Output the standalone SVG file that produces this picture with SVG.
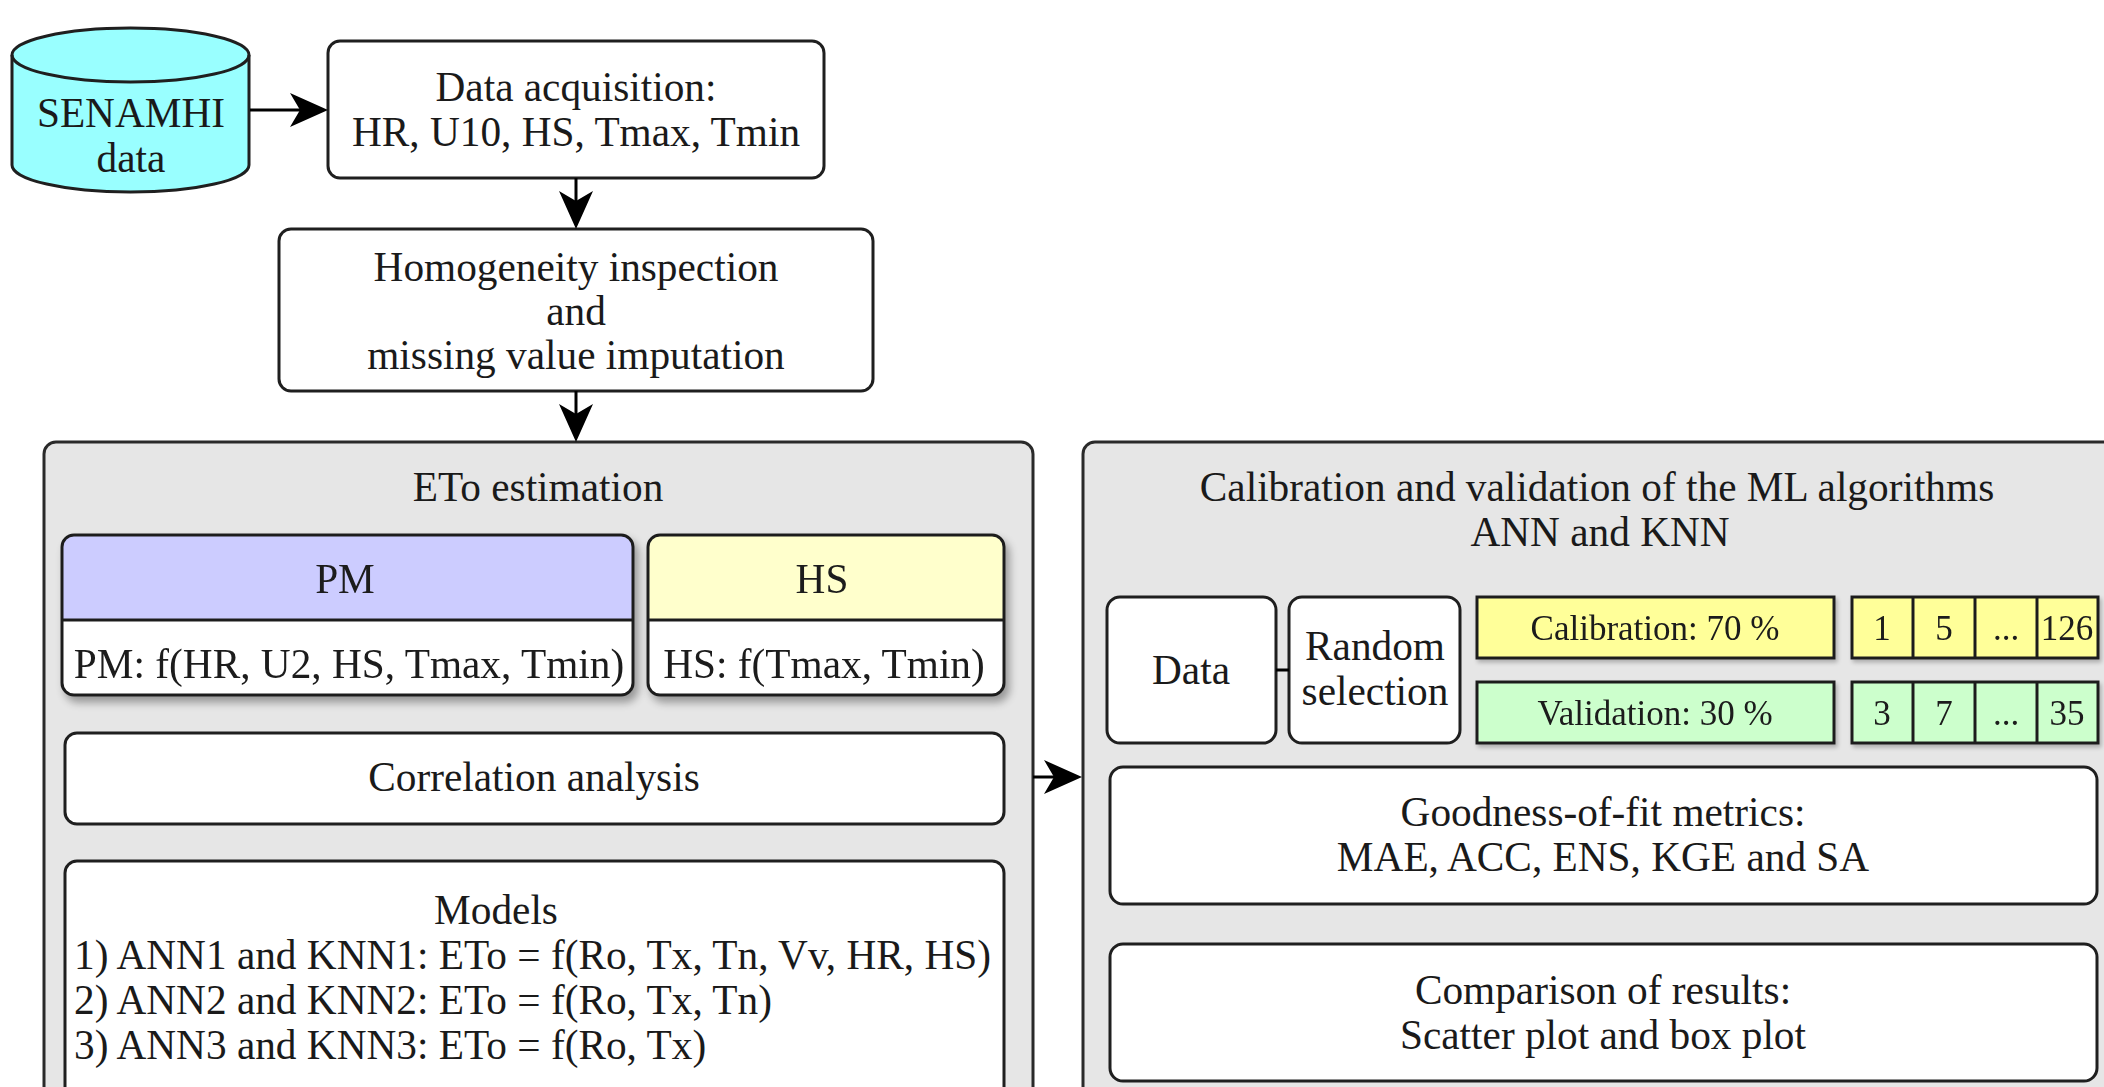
<svg xmlns="http://www.w3.org/2000/svg" width="2104" height="1087" viewBox="0 0 2104 1087">
  <style>
    text { font-family: "Liberation Serif", "Times New Roman", serif; fill: #1a1a1a; }
    .t40 { font-size: 41.3px; }
    .t33 { font-size: 35px; }
    .c { text-anchor: middle; }
    .box { fill: #ffffff; stroke: #1f1f1f; stroke-width: 3; }
    .cont { fill: #e6e6e6; stroke: #2a2a2a; stroke-width: 3; }
    .edge { fill: none; stroke: #000000; stroke-width: 3; }
  </style>
  <defs>
    <marker id="arr" markerUnits="userSpaceOnUse" markerWidth="40" markerHeight="36" refX="10" refY="17" orient="auto">
      <path d="M0,0 L38,17 L0,34 L10,17 Z" fill="#000000"/>
    </marker>
    <filter id="sh" x="-10%" y="-10%" width="130%" height="140%">
      <feGaussianBlur in="SourceAlpha" stdDeviation="4"/>
      <feOffset dx="4" dy="6" result="b"/>
      <feComponentTransfer><feFuncA type="linear" slope="0.35"/></feComponentTransfer>
      <feMerge><feMergeNode/><feMergeNode in="SourceGraphic"/></feMerge>
    </filter>
    <filter id="sh2" x="-5%" y="-10%" width="115%" height="130%">
      <feGaussianBlur in="SourceAlpha" stdDeviation="2"/>
      <feOffset dx="2" dy="3" result="b"/>
      <feComponentTransfer><feFuncA type="linear" slope="0.25"/></feComponentTransfer>
      <feMerge><feMergeNode/><feMergeNode in="SourceGraphic"/></feMerge>
    </filter>
  </defs>

  <!-- Containers -->
  <g id="eto-estimation">
    <rect class="cont" x="44" y="442" width="989" height="680" rx="12"/>
    <text class="t40 c" x="538" y="501">ETo estimation</text>
  </g>
  <g id="calibration-validation">
    <rect class="cont" x="1083" y="442" width="1040" height="680" rx="12"/>
    <text class="t40 c" x="1597" y="501">Calibration and validation of the ML algorithms</text>
    <text class="t40 c" x="1600" y="546">ANN and KNN</text>
  </g>

  <!-- Top nodes -->
  <g id="senamhi">
    <path d="M12,55 L12,165 A118.5,27 0 0 0 249,165 L249,55 A118.5,27 0 0 0 12,55 Z" fill="#99ffff" stroke="#1f1f1f" stroke-width="3"/>
    <path d="M12,55 A118.5,27 0 0 0 249,55" fill="none" stroke="#1f1f1f" stroke-width="3"/>
    <text class="t40 c" x="131" y="127">SENAMHI</text>
    <text class="t40 c" x="131" y="172">data</text>
  </g>
  <g id="data-acquisition">
    <rect class="box" x="328" y="41" width="496" height="137" rx="12"/>
    <text class="t40 c" x="576" y="101">Data acquisition:</text>
    <text class="t40 c" x="576" y="146">HR, U10, HS, Tmax, Tmin</text>
  </g>
  <g id="homogeneity">
    <rect class="box" x="279" y="229" width="594" height="162" rx="12"/>
    <text class="t40 c" x="576" y="281">Homogeneity inspection</text>
    <text class="t40 c" x="576" y="325">and</text>
    <text class="t40 c" x="576" y="369">missing value imputation</text>
  </g>

  <!-- ETo inner nodes -->
  <g id="pm" filter="url(#sh)">
    <path d="M62,620 L62,547 Q62,535 74,535 L621,535 Q633,535 633,547 L633,620 Z" fill="#ccccff"/>
    <path d="M62,620 L633,620 L633,683 Q633,695 621,695 L74,695 Q62,695 62,683 Z" fill="#ffffff"/>
    <rect x="62" y="535" width="571" height="160" rx="12" fill="none" stroke="#1f1f1f" stroke-width="3"/>
    <line x1="62" y1="620" x2="633" y2="620" stroke="#1f1f1f" stroke-width="3"/>
    <text class="t40 c" x="345" y="593">PM</text>
    <text class="t40 c" x="349" y="678">PM: f(HR, U2, HS, Tmax, Tmin)</text>
  </g>
  <g id="hs" filter="url(#sh)">
    <path d="M648,620 L648,547 Q648,535 660,535 L992,535 Q1004,535 1004,547 L1004,620 Z" fill="#ffffcc"/>
    <path d="M648,620 L1004,620 L1004,683 Q1004,695 992,695 L660,695 Q648,695 648,683 Z" fill="#ffffff"/>
    <rect x="648" y="535" width="356" height="160" rx="12" fill="none" stroke="#1f1f1f" stroke-width="3"/>
    <line x1="648" y1="620" x2="1004" y2="620" stroke="#1f1f1f" stroke-width="3"/>
    <text class="t40 c" x="822" y="593">HS</text>
    <text class="t40 c" x="824" y="678">HS: f(Tmax, Tmin)</text>
  </g>
  <g id="correlation">
    <rect class="box" x="65" y="733" width="939" height="91" rx="12"/>
    <text class="t40 c" x="534" y="791">Correlation analysis</text>
  </g>
  <g id="models">
    <rect class="box" x="65" y="861" width="939" height="260" rx="12"/>
    <text class="t40 c" x="496" y="924">Models</text>
    <text class="t40" x="74" y="969">1) ANN1 and KNN1: ETo = f(Ro, Tx, Tn, Vv, HR, HS)</text>
    <text class="t40" x="74" y="1014">2) ANN2 and KNN2: ETo = f(Ro, Tx, Tn)</text>
    <text class="t40" x="74" y="1059">3) ANN3 and KNN3: ETo = f(Ro, Tx)</text>
  </g>

  <!-- Right inner nodes -->
  <g id="data">
    <rect class="box" x="1107" y="597" width="169" height="146" rx="13"/>
    <text class="t40 c" x="1191" y="684">Data</text>
  </g>
  <g id="random-selection">
    <rect class="box" x="1289" y="597" width="171" height="146" rx="13"/>
    <text class="t40 c" x="1375" y="660">Random</text>
    <text class="t40 c" x="1375" y="705">selection</text>
  </g>
  <g id="calibration" filter="url(#sh2)">
    <rect x="1477" y="597" width="357" height="61" fill="#ffff99" stroke="#1f1f1f" stroke-width="3"/>
    <text class="t33 c" x="1655" y="640">Calibration: 70 %</text>
  </g>
  <g id="validation" filter="url(#sh2)">
    <rect x="1477" y="682" width="357" height="61" fill="#ccffcc" stroke="#1f1f1f" stroke-width="3"/>
    <text class="t33 c" x="1655" y="725">Validation: 30 %</text>
  </g>
  <g id="calibration-cells" filter="url(#sh2)">
    <rect x="1852" y="597" width="246" height="61" fill="#ffff99" stroke="#1f1f1f" stroke-width="3"/>
    <line x1="1913" y1="597" x2="1913" y2="658" stroke="#1f1f1f" stroke-width="3"/>
    <line x1="1975" y1="597" x2="1975" y2="658" stroke="#1f1f1f" stroke-width="3"/>
    <line x1="2037" y1="597" x2="2037" y2="658" stroke="#1f1f1f" stroke-width="3"/>
    <text class="t33 c" x="1882" y="640">1</text>
    <text class="t33 c" x="1944" y="640">5</text>
    <text class="t33 c" x="2006" y="640">...</text>
    <text class="t33 c" x="2067" y="640">126</text>
  </g>
  <g id="validation-cells" filter="url(#sh2)">
    <rect x="1852" y="682" width="246" height="61" fill="#ccffcc" stroke="#1f1f1f" stroke-width="3"/>
    <line x1="1913" y1="682" x2="1913" y2="743" stroke="#1f1f1f" stroke-width="3"/>
    <line x1="1975" y1="682" x2="1975" y2="743" stroke="#1f1f1f" stroke-width="3"/>
    <line x1="2037" y1="682" x2="2037" y2="743" stroke="#1f1f1f" stroke-width="3"/>
    <text class="t33 c" x="1882" y="725">3</text>
    <text class="t33 c" x="1944" y="725">7</text>
    <text class="t33 c" x="2006" y="725">...</text>
    <text class="t33 c" x="2067" y="725">35</text>
  </g>
  <g id="goodness">
    <rect class="box" x="1110" y="767" width="987" height="137" rx="13"/>
    <text class="t40 c" x="1603" y="826">Goodness-of-fit metrics:</text>
    <text class="t40 c" x="1603" y="871">MAE, ACC, ENS, KGE and SA</text>
  </g>
  <g id="comparison">
    <rect class="box" x="1110" y="944" width="987" height="137" rx="13"/>
    <text class="t40 c" x="1603" y="1004">Comparison of results:</text>
    <text class="t40 c" x="1603" y="1049">Scatter plot and box plot</text>
  </g>

  <!-- Connectors -->
  <g id="connectors">
    <line class="edge" x1="250" y1="110" x2="300" y2="110" marker-end="url(#arr)"/>
    <line class="edge" x1="576" y1="178" x2="576" y2="201" marker-end="url(#arr)"/>
    <line class="edge" x1="576" y1="391" x2="576" y2="414" marker-end="url(#arr)"/>
    <line class="edge" x1="1033" y1="777" x2="1054" y2="777" marker-end="url(#arr)"/>
    <line class="edge" x1="1276" y1="670" x2="1289" y2="670"/>
  </g>
</svg>
